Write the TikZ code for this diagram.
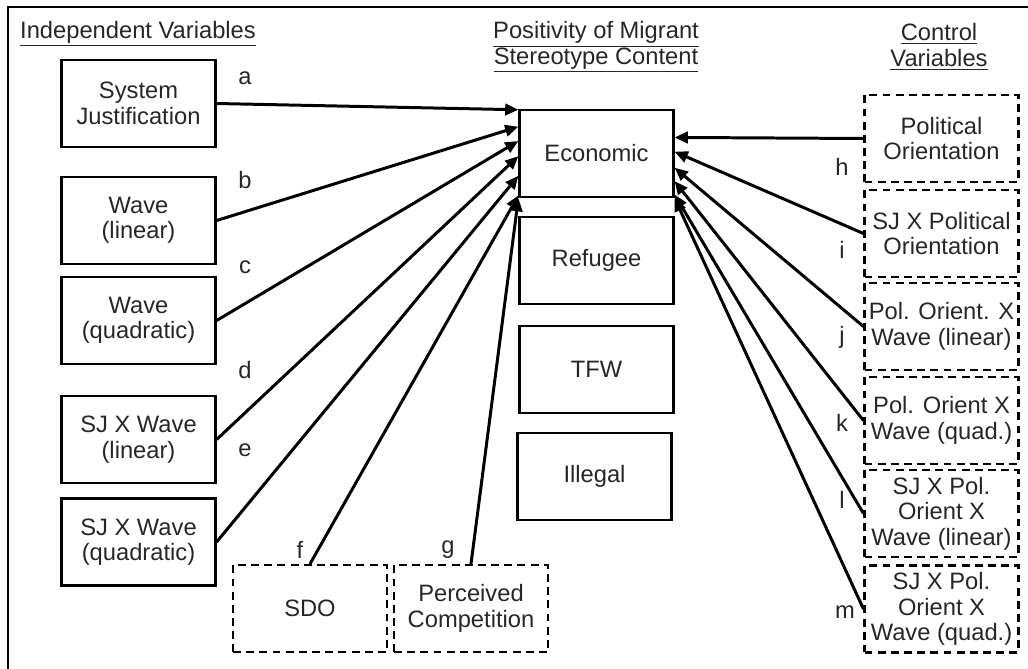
\documentclass[tikz,border=0pt]{standalone}
\usepackage{fontspec}
\setmainfont{Liberation Sans}
\usetikzlibrary{arrows.meta,calc}

\tikzset{
    varbox/.style={draw, line width=1.3pt, minimum width=3.08cm, minimum height=1.74cm,
                   align=center, inner sep=2pt, text=black!85},
    ctrlbox/.style={varbox, line width=1.2pt, dash pattern=on 4.5pt off 3pt},
    effect/.style={line width=1.7pt, -{Triangle[length=7.5pt,width=6.5pt]}},
    coef/.style={text=black!85},
    heading/.style={align=center, text=black!85}
}

\begin{document}
\begin{tikzpicture}[x=0.02cm, y=-0.02cm, font=\fontsize{13.5}{14.5}\selectfont]
                      \useasboundingbox (0,0) rectangle (1028,669);
                      \draw[line width=1.6pt] (8,669) -- (8,7) -- (1028,7);

                      % headings
                      \node[heading] (hiv) at (138,34) {\underline{Independent Variables}};
                      \node[heading] (hdv) at (596,47) {\underline{Positivity of Migrant}\\\underline{Stereotype Content}};
                      \node[heading] (hcv) at (939,47) {\underline{Control}\\\underline{Variables}};

                      % independent variables
                      \node[varbox] (sj)   at (138.5,103.5) {System\\Justification};
                      \node[varbox] (wl)   at (138.5,220.5) {Wave\\(linear)};
                      \node[varbox] (wq)   at (138.5,320.5) {Wave\\(quadratic)};
                      \node[varbox] (sjwl) at (138.5,439.5) {SJ X Wave\\(linear)};
                      \node[varbox] (sjwq) at (138.5,542)   {SJ X Wave\\(quadratic)};
                      \node[ctrlbox] (sdo) at (310,608.5)   {SDO};
                      \node[ctrlbox] (pc)  at (471,608.5)   {Perceived\\Competition};

                      % outcomes
                      \node[varbox] (eco) at (596.5,153.5) {Economic};
                      \node[varbox] (ref) at (596.5,260.5) {Refugee};
                      \node[varbox] (tfw) at (596.5,369.5) {TFW};
                      \node[varbox] (ill) at (594.5,476.5) {Illegal};

                      % control variables
                      \node[ctrlbox] (po)     at (941.5,138.5) {Political\\Orientation};
                      \node[ctrlbox] (sjpo)   at (941.5,233.5) {SJ X Political\\Orientation};
                      \node[ctrlbox] (powl)   at (941.5,326.5) {Pol. Orient. X\\Wave (linear)};
                      \node[ctrlbox] (powq)   at (941.5,420.5) {Pol. Orient X\\Wave (quad.)};
                      \node[ctrlbox] (sjpowl) at (941.5,513.5) {SJ X Pol.\\Orient X\\Wave (linear)};
                      \node[ctrlbox] (sjpowq) at (941.5,609)   {SJ X Pol.\\Orient X\\Wave (quad.)};

                      % paths into Economic
                      \foreach \src/\t in {sj.east/0.01, wl.east/0.2, wq.east/0.36, sjwl.east/0.53,
                                           sjwq.east/0.75, sdo.north/0.97, pc.north/1}
                          \draw[effect] (\src) -- ($(eco.north west)!\t!(eco.south west)$);
                      \foreach \src/\t in {po/0.32, sjpo/0.48, powl/0.66, powq/0.81, sjpowl/0.96, sjpowq/1}
                          \draw[effect] (\src.west) -- ($(eco.north east)!\t!(eco.south east)$);

                      % path labels
                      \node[coef] (la) at (245,78)  {a};
                      \node[coef] (lb) at (245,180) {b};
                      \node[coef] (lc) at (245,267) {c};
                      \node[coef] (ld) at (245,370) {d};
                      \node[coef] (le) at (245,450) {e};
                      \node[coef] (lf) at (300,550) {f};
                      \node[coef] (lg) at (448,550) {g};
                      \node[coef] (lh) at (842,167) {h};
                      \node[coef] (li) at (842,250) {i};
                      \node[coef] (lj) at (842,337) {j};
                      \node[coef] (lk) at (842,423) {k};
                      \node[coef] (ll) at (842,500) {l};
                      \node[coef] (lm) at (845,612) {m};

                  \end{tikzpicture}
\end{document}
